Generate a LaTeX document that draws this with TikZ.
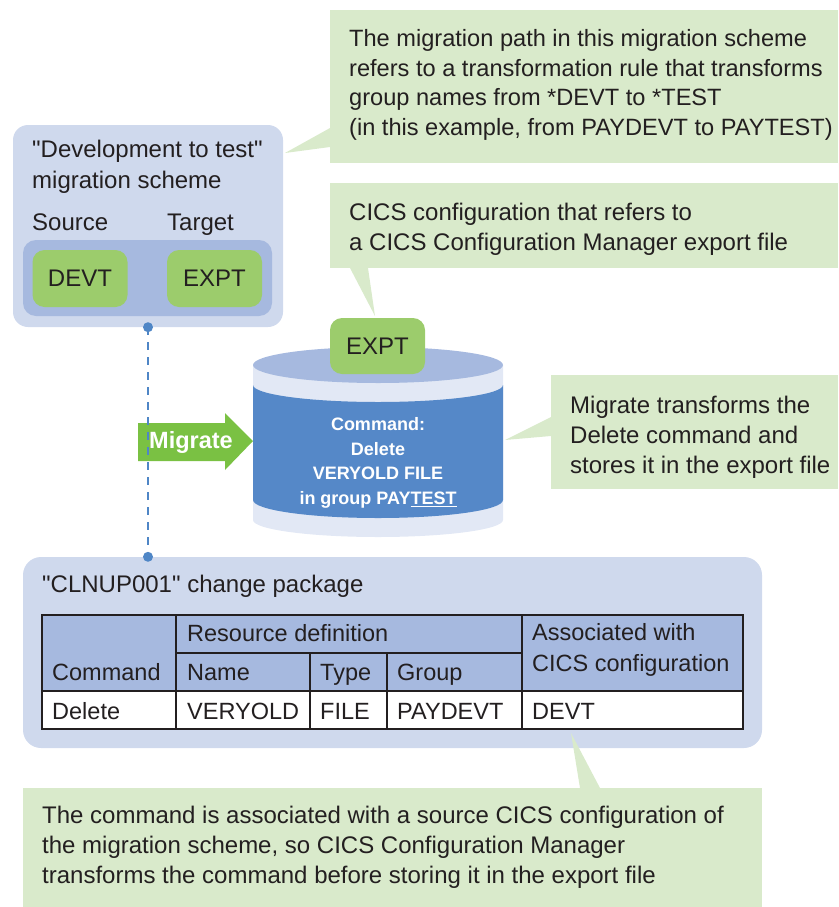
\documentclass[tikz,border=0pt]{standalone}
\usepackage{fontspec}
\setmainfont{Liberation Sans}[Ligatures=TeXOff]
\usetikzlibrary{positioning}

\definecolor{panelblue}{HTML}{CFD9ED}
\definecolor{bandblue}{HTML}{A6B9DF}
\definecolor{cfggreen}{HTML}{9CCC6C}
\definecolor{notegreen}{HTML}{D9EACB}
\definecolor{arrowgreen}{HTML}{7AC143}
\definecolor{drumblue}{HTML}{5588C8}
\definecolor{drumlight}{HTML}{E2E8F5}
\definecolor{linkblue}{HTML}{4F86C6}
\definecolor{inkgray}{HTML}{231F20}

\tikzset{
  panel/.style={fill=panelblue, rounded corners=15pt, inner sep=0pt},
  band/.style={fill=bandblue, rounded corners=13pt, inner sep=0pt},
  cfg/.style={fill=cfggreen, rounded corners=12pt, inner sep=0pt,
    minimum width=95pt, minimum height=57pt, text=inkgray,
    font=\fontsize{24}{28}\selectfont},
  txt/.style={inner sep=0pt, anchor=base west, text=inkgray, align=left,
    font=\fontsize{24}{30}\selectfont},
  cell/.style={txt, font=\fontsize{23.5}{31}\selectfont},
  drumtxt/.style={inner sep=0pt, text=white, align=center,
    font=\fontsize{18}{24.5}\selectfont\bfseries},
  link/.style={linkblue, line width=2.8pt, dash pattern=on 8pt off 7pt},
  rule/.style={inkgray, line width=1.2pt},
}

\begin{document}
\begin{tikzpicture}[x=1pt, y=-1pt]
  \useasboundingbox (0,0) rectangle (838,907);

  % Callout: transformation rule
  \fill[notegreen] (330,10) rectangle (838,163);
  \fill[notegreen] (330,128) -- (285,153) -- (330,147) -- cycle;
  \node[txt, anchor=north west, font=\fontsize{23.6}{29.5}\selectfont] (rulenote) at (349,29.5)
    {The migration path in this migration scheme\\refers to a transformation rule that transforms\\group names from *DEVT to *TEST\\(in this example, from PAYDEVT to PAYTEST)};

  % Callout: export configuration
  \fill[notegreen] (330,183) rectangle (838,268);
  \fill[notegreen] (350,268) -- (375,316) -- (368,268) -- cycle;
  \node[txt, anchor=north west] (exportnote) at (349,202.5)
    {CICS configuration that refers to\\a CICS Configuration Manager export file};

  % Callout: migrate
  \fill[notegreen] (551,375) rectangle (838,489);
  \fill[notegreen] (551,417) -- (505,440) -- (551,436) -- cycle;
  \node[txt, anchor=north west] (migratenote) at (570,395.5)
    {Migrate transforms the\\Delete command and\\stores it in the export file};

  % Migration scheme panel
  \node[panel, minimum width=270pt, minimum height=202pt] (scheme) at (148,226) {};
  \node[txt, anchor=north west, font=\fontsize{24}{31}\selectfont] (schemetitle) at (32,139.5)
    {"Development to test"\\migration scheme};
  \node[txt] (sourcelbl) at (32,230) {Source};
  \node[txt] (targetlbl) at (167,230) {Target};
  \node[band, minimum width=249pt, minimum height=76pt] (pathband) at (147.5,278) {};
  \node[cfg] (devt) at (80,278.5) {DEVT};
  \node[cfg] (expt) at (214.5,278.5) {EXPT};

  % Export file drum
  \fill[drumlight] (253,365) -- (253,520)
    arc[start angle=180, end angle=360, x radius=125pt, y radius=17pt]
    -- (503,365) -- cycle;
  \fill[drumblue] (253,385)
    arc[start angle=180, end angle=360, x radius=125pt, y radius=17pt]
    -- (503,500)
    arc[start angle=0, end angle=-180, x radius=125pt, y radius=18pt]
    -- cycle;
  \fill[bandblue] (378,365) ellipse[x radius=125pt, y radius=18pt];
  \node[cfg, minimum height=56pt] (exptdrum) at (377.5,346) {EXPT};
  \node[drumtxt] (drumcmd) at (378,463)
    {Command:\\Delete\\VERYOLD FILE\\in group PAY\underline{TEST}};

  % Migrate arrow
  \fill[arrowgreen] (138,423) -- (225,423) -- (225,413) -- (253,441)
    -- (225,470) -- (225,461) -- (138,461) -- cycle;
  \node[inner sep=0pt, text=white, font=\fontsize{23.5}{26}\selectfont\bfseries]
    (migrate) at (191,442) {Migrate};

  % Change package panel
  \node[panel, rounded corners=18pt, minimum width=739pt, minimum height=191pt]
    (package) at (392.5,652.5) {};
  \node[txt] (packagetitle) at (42,592) {"CLNUP001" change package};

  % Table
  \fill[bandblue] (42,615) rectangle (743,691);
  \fill[white] (42,691) rectangle (743,729);
  \draw[rule] (42,615) rectangle (743,729);
  \draw[rule] (42,691) -- (743,691);
  \draw[rule] (176,653) -- (522,653);
  \draw[rule] (176,615) -- (176,729);
  \draw[rule] (522,615) -- (522,729);
  \draw[rule] (310,653) -- (310,729);
  \draw[rule] (387,653) -- (387,729);
  \node[cell] (hdrres) at (187,641) {Resource definition};
  \node[cell, anchor=north west] (hdrassoc) at (532,623.5) {Associated with\\CICS configuration};
  \node[cell] (hdrcmd) at (52,680) {Command};
  \node[cell] (hdrname) at (187,680) {Name};
  \node[cell] (hdrtype) at (320,680) {Type};
  \node[cell] (hdrgroup) at (397,680) {Group};
  \node[cell] (valcmd) at (52,719) {Delete};
  \node[cell] (valname) at (187,719) {VERYOLD};
  \node[cell] (valtype) at (320,719) {FILE};
  \node[cell] (valgroup) at (397,719) {PAYDEVT};
  \node[cell] (valcfg) at (532,719) {DEVT};

  % Link from scheme to package
  \draw[link] (scheme.south) -- (package.north -| scheme.south);
  \fill[linkblue] (scheme.south) circle (5pt);
  \fill[linkblue] (package.north -| scheme.south) circle (5pt);

  % Callout: source configuration
  \fill[notegreen] (23,788) rectangle (762,907);
  \fill[notegreen] (580,788) -- (571,733) -- (600,788) -- cycle;
  \node[txt, anchor=north west] (sourcenote) at (42,805.5)
    {The command is associated with a source CICS configuration of\\the migration scheme, so CICS Configuration Manager\\transforms the command before storing it in the export file};

\end{tikzpicture}
\end{document}
